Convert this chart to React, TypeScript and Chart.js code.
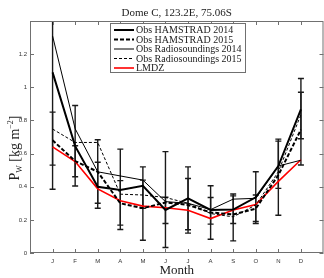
import React, { useEffect, useRef } from 'react';
import { Chart, registerables } from 'chart.js';

Chart.register(...registerables);

const monthLabels = ['J', 'F', 'M', 'A', 'M', 'J', 'J', 'A', 'S', 'O', 'N', 'D'];
const monthPos = [1, 2, 3, 4, 5, 6, 7, 8, 9, 10, 11, 12];

const hamstrad2014 = [1.09, 0.645, 0.4, 0.38, 0.405, 0.26, 0.33, 0.26, 0.262, 0.336, 0.525, 0.867];
const hamstrad2015 = [0.68, 0.555, 0.49, 0.3, 0.27, 0.305, 0.29, 0.245, 0.232, 0.268, 0.47, 0.745];
const radio2014 = [1.31, 0.75, 0.49, 0.465, 0.44, 0.31, 0.3, 0.262, 0.325, 0.33, 0.525, 0.56];
const radio2015 = [0.748, 0.667, 0.667, 0.355, 0.35, 0.335, 0.3, 0.238, 0.218, 0.29, 0.49, 0.835];
const lmdz = [0.64, 0.552, 0.387, 0.315, 0.283, 0.273, 0.258, 0.208, 0.26, 0.292, 0.432, 0.563];

const h14Low = [0.385, 0.404, 0.27, 0.142, 0.27, 0.178, 0.14, 0.174, 0.178, 0.19, 0.39, 0.689];
const h14High = [1.8, 0.89, 0.548, 0.627, 0.52, 0.336, 0.52, 0.335, 0.345, 0.49, 0.675, 1.053];
const h15Low = [0.53, 0.46, 0.3, 0.168, 0.077, 0.033, 0.12, 0.083, 0.073, 0.178, 0.228, 0.531];
const h15High = [0.85, 0.647, 0.683, 0.437, 0.44, 0.612, 0.45, 0.406, 0.356, 0.35, 0.687, 0.97];

const yTicks = [0, 0.2, 0.4, 0.6, 0.8, 1, 1.2];

const titleText = 'Dome C, 123.2E, 75.06S';
const xTitle = 'Month';

const seriesNames = [
  'Obs HAMSTRAD 2014',
  'Obs HAMSTRAD 2015',
  'Obs Radiosoundings 2014',
  'Obs Radiosoundings 2015',
  'LMDZ',
];
const seriesColors = ['#000000', '#000000', '#000000', '#000000', '#ff0000'];
const seriesWidths = [2, 2, 1, 1, 1.6];
const seriesDash: number[][] = [[], [4, 2], [], [3, 2], []];
const seriesData = [hamstrad2014, hamstrad2015, radio2014, radio2015, lmdz];

const SERIF = '"Liberation Serif", "DejaVu Serif", serif';
const SANS = '"Liberation Sans", Arial, sans-serif';

const decorPlugin = {
  id: 'decor',
  beforeDatasetsDraw(chart: any) {
    const ctx = chart.ctx as CanvasRenderingContext2D;
    const { chartArea: a, scales } = chart;
    const xs = scales.x;
    const ys = scales.y;
    ctx.save();
    ctx.beginPath();
    ctx.rect(a.left, a.top, a.right - a.left, a.bottom - a.top);
    ctx.clip();
    ctx.strokeStyle = '#1a1a1a';
    ctx.lineWidth = 1.4;
    const pairs = [
      [h14Low, h14High],
      [h15Low, h15High],
    ];
    pairs.forEach(([lo, hi]) => {
      monthPos.forEach((m, i) => {
        const x = xs.getPixelForValue(m);
        const y1 = ys.getPixelForValue(lo[i]);
        const y2 = ys.getPixelForValue(hi[i]);
        ctx.beginPath();
        ctx.moveTo(x, y1);
        ctx.lineTo(x, y2);
        ctx.moveTo(x - 3, y1);
        ctx.lineTo(x + 3, y1);
        ctx.moveTo(x - 3, y2);
        ctx.lineTo(x + 3, y2);
        ctx.stroke();
      });
    });
    ctx.restore();
  },
  afterDraw(chart: any) {
    const ctx = chart.ctx as CanvasRenderingContext2D;
    const { chartArea: a, scales } = chart;
    const xs = scales.x;
    const ys = scales.y;
    ctx.save();
    // frame
    ctx.strokeStyle = '#707070';
    ctx.lineWidth = 1;
    ctx.strokeRect(a.left + 0.5, a.top + 0.5, a.right - a.left - 1, a.bottom - a.top - 1);
    // inward ticks
    ctx.beginPath();
    monthPos.forEach((m) => {
      const x = Math.round(xs.getPixelForValue(m)) + 0.5;
      ctx.moveTo(x, a.bottom);
      ctx.lineTo(x, a.bottom - 4);
      ctx.moveTo(x, a.top);
      ctx.lineTo(x, a.top + 4);
    });
    yTicks.forEach((v) => {
      const y = Math.round(ys.getPixelForValue(v)) + 0.5;
      ctx.moveTo(a.left, y);
      ctx.lineTo(a.left + 4, y);
      ctx.moveTo(a.right, y);
      ctx.lineTo(a.right - 4, y);
    });
    ctx.stroke();

    // title
    ctx.fillStyle = '#222';
    ctx.font = `11px ${SERIF}`;
    ctx.textAlign = 'center';
    ctx.textBaseline = 'alphabetic';
    ctx.fillText(titleText, (a.left + a.right) / 2, 16);

    // x title
    ctx.font = `13px ${SERIF}`;
    ctx.fillText(xTitle, (a.left + a.right) / 2, 274);

    // y title with sub/superscript
    ctx.save();
    ctx.translate(19, 148);
    ctx.rotate(-Math.PI / 2);
    ctx.textAlign = 'left';
    const big = `14px ${SERIF}`;
    const small = `8px ${SERIF}`;
    const parts: [string, string, number][] = [
      ['P', big, 0],
      ['W', small, 3],
      [' [kg m', big, 0],
      ['\u22122', small, -6],
      [']', big, 0],
    ];
    let total = 0;
    parts.forEach(([t, f]) => {
      ctx.font = f;
      total += ctx.measureText(t).width;
    });
    let cx = -total / 2;
    parts.forEach(([t, f, dy]) => {
      ctx.font = f;
      ctx.fillText(t, cx, dy);
      cx += ctx.measureText(t).width;
    });
    ctx.restore();

    // legend
    const lx = 110.5;
    const ly = 23.5;
    const lw = 135;
    const lh = 49;
    ctx.fillStyle = '#ffffff';
    ctx.fillRect(lx, ly, lw, lh);
    ctx.strokeStyle = '#707070';
    ctx.lineWidth = 1;
    ctx.strokeRect(lx, ly, lw, lh);
    ctx.font = `10px ${SERIF}`;
    ctx.textAlign = 'left';
    ctx.textBaseline = 'middle';
    seriesNames.forEach((name, i) => {
      const yy = 30 + i * 9.5;
      ctx.beginPath();
      ctx.strokeStyle = seriesColors[i];
      ctx.lineWidth = seriesWidths[i];
      ctx.setLineDash(seriesDash[i]);
      ctx.moveTo(114, yy);
      ctx.lineTo(134, yy);
      ctx.stroke();
      ctx.setLineDash([]);
      ctx.fillStyle = '#222';
      ctx.fillText(name, 136, yy + 0.5);
    });
    ctx.restore();
  },
};

export default function App() {
  const ref = useRef<HTMLCanvasElement | null>(null);
  useEffect(() => {
    if (!ref.current) return;
    const chart = new Chart(ref.current, {
      type: 'line',
      data: {
        datasets: seriesData.map((d, i) => ({
          label: seriesNames[i],
          data: d.map((v, j) => ({ x: monthPos[j], y: v })),
          borderColor: seriesColors[i],
          borderWidth: seriesWidths[i],
          borderDash: seriesDash[i],
          pointRadius: 0,
          tension: 0,
          fill: false,
        })),
      },
      options: {
        animation: false,
        responsive: true,
        maintainAspectRatio: false,
        layout: { padding: { top: 21, right: 0.5, left: 0, bottom: 0 } },
        plugins: {
          legend: { display: false },
          tooltip: { enabled: false },
          title: { display: false },
        },
        scales: {
          x: {
            type: 'linear',
            min: 0,
            max: 13,
            afterFit: (s: any) => {
              s.height = 25;
            },
            afterBuildTicks: (s: any) => {
              s.ticks = monthPos.map((v) => ({ value: v }));
            },
            grid: { display: false, drawTicks: false },
            border: { display: false },
            ticks: {
              padding: 5,
              color: '#333',
              font: { family: SANS, size: 6 },
              autoSkip: false,
              maxRotation: 0,
              callback: (v: any) => monthLabels[Number(v) - 1] ?? '',
            },
          },
          y: {
            type: 'linear',
            min: 0,
            max: 1.4,
            afterFit: (s: any) => {
              s.width = 30;
            },
            afterBuildTicks: (s: any) => {
              s.ticks = yTicks.map((v) => ({ value: v }));
            },
            grid: { display: false, drawTicks: false },
            border: { display: false },
            ticks: {
              padding: 3,
              color: '#333',
              font: { family: SANS, size: 6 },
              callback: (v: any) => String(Math.round(Number(v) * 10) / 10),
            },
          },
        },
      },
      plugins: [decorPlugin],
    });
    return () => chart.destroy();
  }, []);
  return (
    <div style={{ position: 'fixed', left: 0, top: 0, width: 324, height: 278, background: '#fff' }}>
      <canvas ref={ref} />
    </div>
  );
}
